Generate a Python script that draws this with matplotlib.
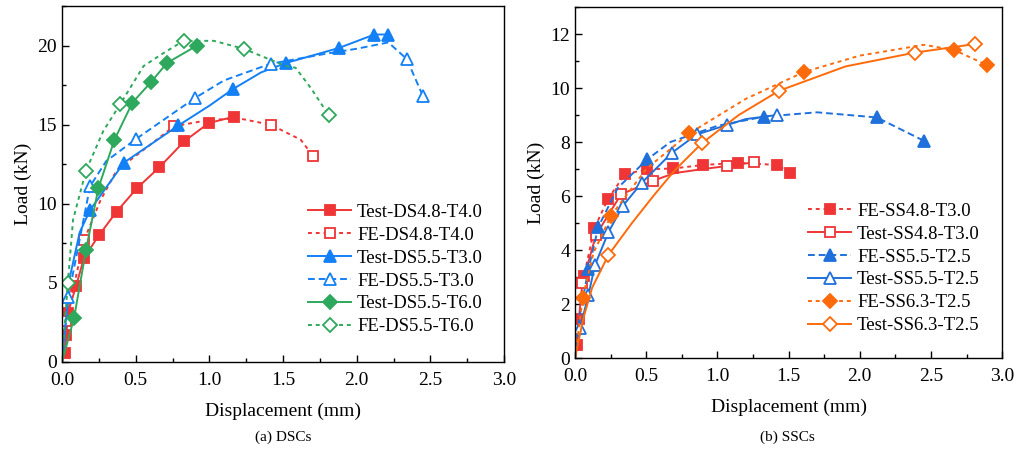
import matplotlib
matplotlib.use("Agg")
import matplotlib.pyplot as plt
from matplotlib.ticker import MultipleLocator

plt.rcParams['font.family'] = ['Liberation Serif', 'DejaVu Serif']
plt.rcParams['font.size'] = 13

red = "#EF3535"
blue_a = "#1480F5"
blue_b = "#1F70DA"
green = "#2EA85C"
orange = "#FF6A0A"

# (a) DSCs  -- line vertices, marker indices
test_ds48_x = [0.02, 0.03, 0.04, 0.095, 0.15, 0.25, 0.37, 0.51, 0.66, 0.83, 0.995, 1.165]
test_ds48_y = [0.57, 1.7, 3.1, 4.8, 6.6, 8.0, 9.5, 11.0, 12.3, 13.95, 15.1, 15.5]
test_ds48_m = list(range(12))

fe_ds48_x = [0.0, 0.027, 0.15, 0.26, 0.37, 0.58, 0.76, 1.0, 1.2, 1.415, 1.48, 1.62, 1.705]
fe_ds48_y = [0.0, 2.6, 7.7, 10.2, 12.1, 13.6, 14.9, 15.3, 15.4, 15.0, 14.7, 14.05, 13.0]
fe_ds48_m = [1, 2, 6, 9, 12]

test_ds55_x = [0.0, 0.054, 0.12, 0.19, 0.42, 0.79, 1.0, 1.16, 1.35, 1.52, 1.88, 2.12, 2.215]
test_ds55_y = [0.0, 5.4, 8.2, 9.6, 12.6, 14.95, 16.2, 17.25, 18.3, 18.9, 19.85, 20.7, 20.7]
test_ds55_m = [3, 4, 5, 7, 9, 10, 11, 12]

fe_ds55_x = [0.0, 0.043, 0.19, 0.3, 0.503, 0.905, 1.1, 1.415, 1.8, 2.0, 2.215, 2.34, 2.45]
fe_ds55_y = [0.0, 4.1, 11.1, 12.7, 14.1, 16.7, 17.8, 18.85, 19.5, 19.8, 20.2, 19.15, 16.8]
fe_ds55_m = [1, 2, 4, 5, 7, 11, 12]

test_ds60_x = [0.0, 0.082, 0.163, 0.247, 0.356, 0.478, 0.605, 0.712, 0.916]
test_ds60_y = [0.0, 2.8, 7.1, 11.0, 14.05, 16.4, 17.7, 18.9, 20.0]
test_ds60_m = [1, 2, 3, 4, 5, 6, 7, 8]

fe_ds60_x = [0.0, 0.039, 0.075, 0.163, 0.28, 0.395, 0.553, 0.667, 0.825, 1.03, 1.233, 1.52, 1.585, 1.69, 1.81]
fe_ds60_y = [0.0, 4.97, 9.0, 12.1, 14.6, 16.3, 18.7, 19.4, 20.3, 20.3, 19.8, 18.7, 18.6, 17.3, 15.6]
fe_ds60_m = [1, 3, 5, 8, 10, 14]

# (b) SSCs
fe_ss48_x = [0.0, 0.016, 0.028, 0.063, 0.136, 0.23, 0.351, 0.508, 0.69, 0.90, 1.148, 1.42, 1.51]
fe_ss48_y = [0.0, 0.48, 1.43, 3.04, 4.8, 5.88, 6.81, 6.99, 7.02, 7.15, 7.23, 7.15, 6.86]
fe_ss48_m = list(range(1, 13))

test_ss48_x = [0.0, 0.052, 0.148, 0.323, 0.546, 0.7, 0.9, 1.066, 1.26]
test_ss48_y = [0.0, 2.79, 4.56, 6.06, 6.56, 6.85, 7.0, 7.11, 7.25]
test_ss48_m = [1, 2, 3, 4, 7, 8]

fe_ss55_x = [0.0, 0.03, 0.094, 0.164, 0.3, 0.508, 0.67, 1.0, 1.328, 1.7, 2.12, 2.448]
fe_ss55_y = [0.0, 1.5, 3.28, 4.86, 6.3, 7.36, 8.0, 8.6, 8.94, 9.1, 8.91, 8.05]
fe_ss55_m = [2, 3, 5, 8, 10, 11]

test_ss55_x = [0.0, 0.035, 0.094, 0.14, 0.234, 0.335, 0.469, 0.68, 0.855, 1.066, 1.2, 1.417]
test_ss55_y = [0.0, 1.1, 2.33, 3.44, 4.65, 5.63, 6.49, 7.6, 8.28, 8.63, 8.85, 9.0]
test_ss55_m = [1, 2, 3, 4, 5, 6, 7, 8, 9, 11]

fe_ss63_x = [0.0, 0.054, 0.13, 0.253, 0.5, 0.803, 1.2, 1.611, 2.0, 2.45, 2.663, 2.893]
fe_ss63_y = [0.0, 2.23, 3.9, 5.27, 7.0, 8.32, 9.6, 10.6, 11.2, 11.6, 11.41, 10.85]
fe_ss63_m = [1, 3, 5, 7, 10, 11]

test_ss63_x = [0.0, 0.06, 0.12, 0.234, 0.4, 0.55, 0.7, 0.89, 1.15, 1.434, 1.9, 2.385, 2.81]
test_ss63_y = [0.0, 1.5, 2.6, 3.81, 5.0, 6.0, 6.95, 7.95, 9.0, 9.9, 10.8, 11.31, 11.63]
test_ss63_m = [3, 7, 9, 11, 12]

dot = (0, (2, 2))
dash = (0, (3.5, 2))

fig = plt.figure(figsize=(10.17, 4.5), dpi=100)
ax1 = fig.add_axes([0.061, 0.1956, 0.4346, 0.791])
ax2 = fig.add_axes([0.5654, 0.2044, 0.42, 0.78])


def curve(ax, x, y, m, color, ls, marker, filled, label, ms=7.5):
    ax.plot(x, y, color=color, ls=ls, lw=1.4, marker=marker, markevery=m,
            ms=ms, mec=color, mew=1.3,
            mfc=color if filled else "white", label=label)


curve(ax1, test_ds48_x, test_ds48_y, test_ds48_m, red, "-", "s", True, "Test-DS4.8-T4.0")
curve(ax1, fe_ds48_x, fe_ds48_y, fe_ds48_m, red, dot, "s", False, "FE-DS4.8-T4.0")
curve(ax1, test_ds55_x, test_ds55_y, test_ds55_m, blue_a, "-", "^", True, "Test-DS5.5-T3.0", 8.5)
curve(ax1, fe_ds55_x, fe_ds55_y, fe_ds55_m, blue_a, dash, "^", False, "FE-DS5.5-T3.0", 8.5)
curve(ax1, test_ds60_x, test_ds60_y, test_ds60_m, green, "-", "D", True, "Test-DS5.5-T6.0")
curve(ax1, fe_ds60_x, fe_ds60_y, fe_ds60_m, green, dot, "D", False, "FE-DS5.5-T6.0")

curve(ax2, fe_ss48_x, fe_ss48_y, fe_ss48_m, red, dot, "s", True, "FE-SS4.8-T3.0")
curve(ax2, test_ss48_x, test_ss48_y, test_ss48_m, red, "-", "s", False, "Test-SS4.8-T3.0")
curve(ax2, fe_ss55_x, fe_ss55_y, fe_ss55_m, blue_b, dash, "^", True, "FE-SS5.5-T2.5", 8.5)
curve(ax2, test_ss55_x, test_ss55_y, test_ss55_m, blue_b, "-", "^", False, "Test-SS5.5-T2.5", 8.5)
curve(ax2, fe_ss63_x, fe_ss63_y, fe_ss63_m, orange, dot, "D", True, "FE-SS6.3-T2.5")
curve(ax2, test_ss63_x, test_ss63_y, test_ss63_m, orange, "-", "D", False, "Test-SS6.3-T2.5")

ax1.set_xlim(0, 3.0)
ax1.set_ylim(0, 22.5)
ax1.yaxis.set_major_locator(MultipleLocator(5))
ax1.yaxis.set_minor_locator(MultipleLocator(2.5))
ax2.set_xlim(0, 3.0)
ax2.set_ylim(0, 13)
ax2.yaxis.set_major_locator(MultipleLocator(2))
ax2.yaxis.set_minor_locator(MultipleLocator(1))

for ax, anchor in ((ax1, (0.557, 0.445)), (ax2, (0.546, 0.443))):
    ax.xaxis.set_major_locator(MultipleLocator(0.5))
    ax.xaxis.set_minor_locator(MultipleLocator(0.25))
    ax.xaxis.set_major_formatter(matplotlib.ticker.FormatStrFormatter("%.1f"))
    ax.tick_params(which="both", direction="in", top=False, right=False, labelsize=14)
    ax.tick_params(axis="x", which="major", pad=7)
    ax.tick_params(which="major", length=5, width=1)
    ax.tick_params(which="minor", length=3, width=1)
    ax.set_xlabel("Displacement (mm)", fontsize=14, labelpad=10)
    ax.set_ylabel("Load (kN)", fontsize=14, labelpad=4)
    for s in ax.spines.values():
        s.set_linewidth(1.0)
    ax.legend(loc="upper left", bbox_to_anchor=anchor, frameon=False,
              fontsize=13.5, handlelength=2.3, handletextpad=0.3,
              labelspacing=0.31, borderpad=0, borderaxespad=0)

fig.text(0.278, 0.02, "(a) DSCs", ha="center", fontsize=11)
fig.text(0.774, 0.02, "(b) SSCs", ha="center", fontsize=11)

fig.savefig("out.png", dpi=100)
